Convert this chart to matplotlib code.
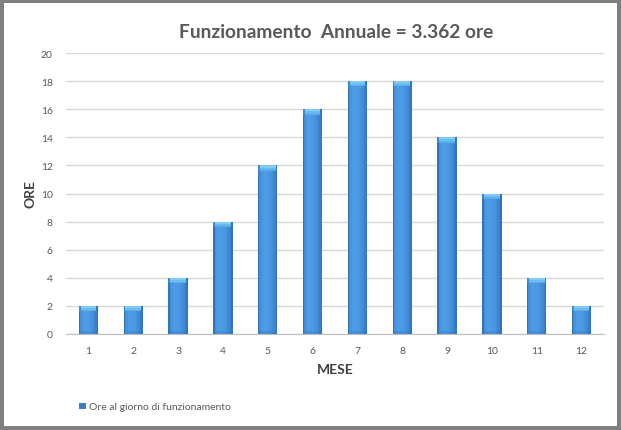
import matplotlib
matplotlib.use("Agg")
import matplotlib.pyplot as plt
from matplotlib.patches import Rectangle
from matplotlib.colors import to_rgb
import numpy as np

months = ["1", "2", "3", "4", "5", "6", "7", "8", "9", "10", "11", "12"]
hours = [2, 2, 4, 8, 12, 16, 18, 18, 14, 10, 4, 2]
yticks = [0, 2, 4, 6, 8, 10, 12, 14, 16, 18, 20]
title = "Funzionamento  Annuale = 3.362 ore"
legend_label = "Ore al giorno di funzionamento"

plt.rcParams['font.family'] = ['Lato', 'DejaVu Sans']

W, H = 621, 431
fig = plt.figure(figsize=(W / 100, H / 100), dpi=100)
fig.patch.set_facecolor('#7f7f7f')
# white inner panel
fig.patches.append(Rectangle((4 / W, 1 - 427 / H), 613 / W, 423 / H,
                             transform=fig.transFigure, facecolor='white',
                             edgecolor='none', zorder=-5))

ax = fig.add_axes([66 / W, 1 - 335 / H, 538 / W, 281 / H])
ax.set_zorder(2)
ax.set_facecolor('none')
x = np.arange(1, len(months) + 1)
v = np.array(hours, dtype=float)

bw = 0.43
# base bar (also used for the legend)
ax.bar(x, v, width=bw, color='#3580cc', zorder=3, label=legend_label)

# horizontal gradient across each bar
stops = [(0.0, '#2a69ad'), (0.12, '#4593dc'), (0.3, '#4e9de5'),
         (0.6, '#4a98e1'), (0.85, '#3c86d0'), (1.0, '#2d70b9')]
n = 14
sw = bw / n
for i in range(n):
    t = (i + 0.5) / n
    for (t0, c0), (t1, c1) in zip(stops[:-1], stops[1:]):
        if t0 <= t <= t1:
            f = (t - t0) / (t1 - t0)
            col = tuple((1 - f) * a + f * b for a, b in zip(to_rgb(c0), to_rgb(c1)))
            break
    ax.bar(x - bw / 2 + (i + 0.5) * sw, v, width=sw * 1.05, color=col,
           zorder=4, linewidth=0)

# slightly darker base
ax.bar(x, np.full_like(v, 0.2), width=bw, color='#2f74bd', alpha=0.25,
       zorder=5, linewidth=0)

# top bevel (trapezoid)
cap = 0.38
ax.bar(x, np.full_like(v, cap), bottom=v - cap, width=bw, color='#5aaee9',
       zorder=6, linewidth=0)
ax.bar(x, np.full_like(v, cap * 0.7), bottom=v - cap * 0.7, width=bw,
       color='#6fbdef', zorder=7, linewidth=0)
ax.bar(x, np.full_like(v, cap * 0.4), bottom=v - cap * 0.4, width=bw,
       color='#82ccf4', zorder=8, linewidth=0)
ax.bar(x - bw / 2 + 0.02, np.full_like(v, cap), bottom=v - cap, width=0.04,
       color='#3f88d2', zorder=9, linewidth=0)
ax.bar(x + bw / 2 - 0.02, np.full_like(v, cap), bottom=v - cap, width=0.04,
       color='#3078c4', zorder=9, linewidth=0)

ax.set_xlim(0.5, 12.5)
ax.set_ylim(0, 20)
ax.set_yticks(yticks)
ax.set_xticks(x)
ax.set_xticklabels(months)
ax.yaxis.grid(True, color='#d9d9d9', linewidth=1)
ax.set_axisbelow(True)
for s in ['left', 'right', 'top']:
    ax.spines[s].set_visible(False)
ax.spines['bottom'].set_color('#bfbfbf')
ax.tick_params(axis='both', length=0, labelsize=7.5, colors='#595959')
ax.tick_params(axis='y', pad=9.5)
ax.tick_params(axis='x', pad=8.5)

ax.set_ylabel("ORE", fontsize=10, fontweight='bold', color='#404040', labelpad=3)
ax.set_xlabel("MESE", fontsize=10, fontweight='bold', color='#404040', labelpad=6)

fig.text(336 / W, 1 - 32 / H, title, ha='center', va='center', fontsize=13.8,
         fontweight='bold', color='#595959')

leg = fig.legend(loc='center left', bbox_to_anchor=(70 / W, 1 - 408 / H),
                 frameon=False, fontsize=7.5, handlelength=0.6, handleheight=0.6,
                 handletextpad=0.3, labelcolor='#595959')

fig.savefig("out.png", dpi=100, facecolor=fig.get_facecolor())
